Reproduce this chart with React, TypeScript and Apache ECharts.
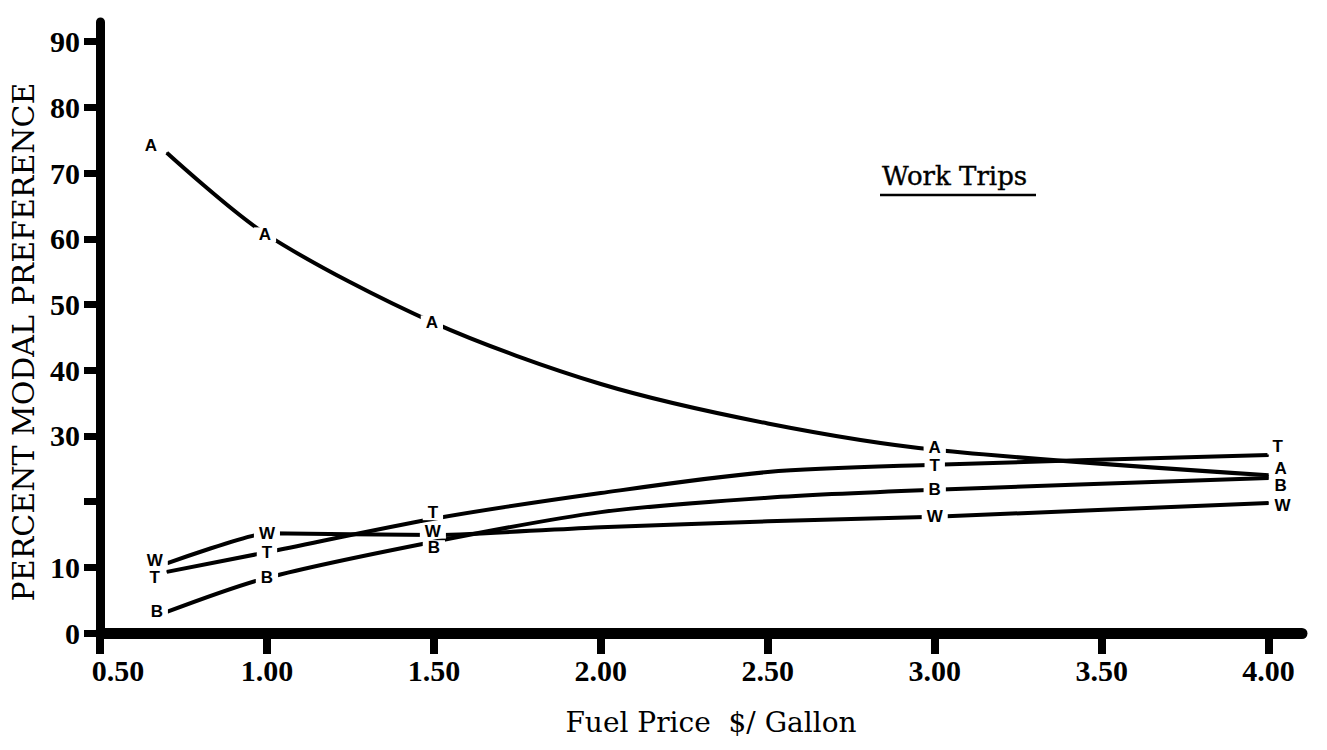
import React, { useEffect, useRef } from 'react';
import * as echarts from 'echarts';

// ---- data ----
const FUEL_PRICES = [0.7, 1.0, 1.5, 2.0, 2.5, 3.0, 4.0];
const AUTO = [73.1, 60.6, 47.2, 37.9, 31.9, 27.9, 24.0];
const TRANSIT = [9.3, 12.3, 17.4, 21.3, 24.5, 25.6, 27.1];
const BIKE = [3.2, 8.4, 13.9, 18.4, 20.6, 21.8, 23.6];
const WALK = [10.6, 15.2, 14.9, 16.1, 17.0, 17.7, 19.8];
// indices of the points that carry a mode letter
const MARKED = [0, 1, 2, 5, 6];
const LETTERS = ['A', 'T', 'B', 'W'];
const X_TICKS = [0.5, 1.0, 1.5, 2.0, 2.5, 3.0, 3.5, 4.0];
const Y_TICKS = [0, 10, 20, 30, 40, 50, 60, 70, 80, 90];
const Y_LABELS = [0, 10, 30, 40, 50, 60, 70, 80, 90];

const TITLE = 'Work Trips';
const X_NAME = 'Fuel Price  $/ Gallon';
const Y_NAME = 'PERCENT MODAL PREFERENCE';

// ---- styling (label nudges, in px, for each marked point) ----
const LETTER_OFFSETS: Record<string, number[][]> = {
  A: [[-16, -7], [-2, 0], [-2, 0], [0, -2], [12, -7]],
  T: [[-12, 6], [0, 0], [-1, -6], [0, 1], [9, -8]],
  B: [[-10, 0], [0, 0], [0, 6], [0, 0], [12, 8]],
  W: [[-12, -3], [0, 0], [-1, -4], [0, 0], [14, 3]],
};
const SMOOTHNESS: Record<string, number> = { A: 0.3, T: 0.3, B: 0.3, W: 0.15 };

const SERIES_VALUES: Record<string, number[]> = {
  A: AUTO,
  T: TRANSIT,
  B: BIKE,
  W: WALK,
};

const SERIF = 'Liberation Serif';
const WIDE_SERIF = 'DejaVu Serif';

export default function App() {
  const ref = useRef<HTMLDivElement>(null);

  useEffect(() => {
    if (!ref.current) return;
    const chart = echarts.init(ref.current, undefined, { renderer: 'svg' });

    const lineSeries = LETTERS.map((letter) => ({
      name: letter,
      type: 'line',
      z: 2,
      smooth: SMOOTHNESS[letter],
      symbol: 'none',
      lineStyle: { color: '#000', width: 4, opacity: 1 },
      data: FUEL_PRICES.map((x, i) => [x, SERIES_VALUES[letter][i]]),
    }));

    const letterSeries = LETTERS.map((letter) => ({
      name: letter + ' marks',
      type: 'scatter',
      z: 5,
      symbol: 'circle',
      symbolSize: 1,
      itemStyle: { color: '#000', opacity: 1 },
      emphasis: { disabled: true },
      label: {
        show: true,
        position: 'inside',
        formatter: letter,
        fontFamily: 'Liberation Sans',
        fontWeight: 'bold',
        fontSize: 17,
        lineHeight: 13,
        color: '#000',
        opacity: 1,
        backgroundColor: '#ffffff',
        padding: [1, 5],
      },
      data: MARKED.map((idx, k) => ({
        value: [FUEL_PRICES[idx], SERIES_VALUES[letter][idx]],
        label: { offset: LETTER_OFFSETS[letter][k] },
      })),
    }));

    chart.setOption({
      animation: false,
      backgroundColor: '#fff',
      grid: { left: 100, right: 25, top: 22, bottom: 117 },
      xAxis: {
        type: 'value',
        min: 0.5,
        max: 4.1,
        splitLine: { show: false },
        axisLine: { show: true, lineStyle: { color: '#000', width: 11 } },
        axisTick: {
          show: true,
          customValues: X_TICKS,
          length: 21,
          lineStyle: { color: '#000', width: 8 },
        },
        axisLabel: {
          customValues: X_TICKS,
          margin: 22,
          color: '#000',
          fontFamily: SERIF,
          fontWeight: 'bold',
          fontSize: 30,
          formatter: (v: number) => (v === 0.5 ? '{p|0.50}' : v.toFixed(2)),
          rich: {
            p: {
              padding: [0, 0, 0, 36],
              color: '#000',
              fontFamily: SERIF,
              fontWeight: 'bold',
              fontSize: 30,
            },
          },
        },
      },
      yAxis: {
        type: 'value',
        min: 0,
        max: 93,
        splitLine: { show: false },
        axisLine: { show: true, lineStyle: { color: '#000', width: 9 } },
        axisTick: {
          show: true,
          customValues: Y_TICKS,
          length: 16,
          lineStyle: { color: '#000', width: 7 },
        },
        axisLabel: {
          customValues: Y_LABELS,
          margin: 20,
          color: '#000',
          fontFamily: SERIF,
          fontWeight: 'bold',
          fontSize: 30,
          formatter: (v: number) => String(v),
        },
      },
      graphic: [
        {
          type: 'text',
          x: 23,
          y: 342,
          rotation: Math.PI / 2,
          style: {
            text: Y_NAME,
            fontFamily: WIDE_SERIF,
            fontSize: 30,
            fill: '#000',
            align: 'center',
            verticalAlign: 'middle',
          },
        },
        {
          type: 'text',
          x: 711,
          y: 722,
          style: {
            text: X_NAME,
            fontFamily: WIDE_SERIF,
            fontSize: 28,
            fill: '#000',
            align: 'center',
            verticalAlign: 'middle',
          },
        },
        {
          type: 'text',
          x: 882,
          y: 176,
          style: {
            text: TITLE,
            fontFamily: WIDE_SERIF,
            fontSize: 26,
            fill: '#000',
            stroke: '#000',
            lineWidth: 0.4,
            align: 'left',
            verticalAlign: 'middle',
          },
        },
        {
          type: 'line',
          shape: { x1: 880, y1: 195, x2: 1036, y2: 195 },
          style: { stroke: '#000', lineWidth: 2.5 },
        },
      ],
      series: [...lineSeries, ...letterSeries],
    });

    return () => chart.dispose();
  }, []);

  return (
    <div
      ref={ref}
      style={{
        position: 'fixed',
        left: 0,
        top: 0,
        width: 1327,
        height: 750,
        background: '#fff',
      }}
    />
  );
}
